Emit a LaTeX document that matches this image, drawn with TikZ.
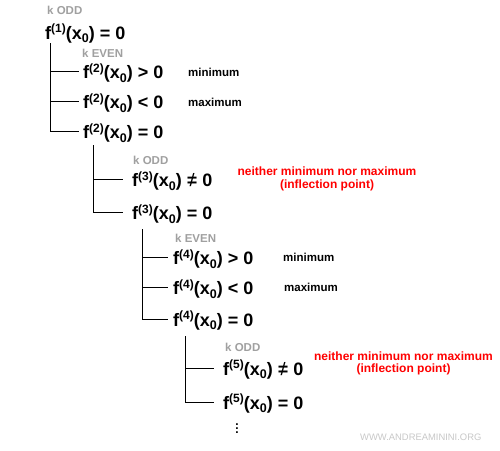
\documentclass[tikz,border=0pt]{standalone}
\usepackage{fontspec}
\setmainfont{Liberation Sans}
\definecolor{kgray}{HTML}{A0A0A0}
\definecolor{wmgray}{HTML}{C8C8C8}
\definecolor{notered}{HTML}{FF0000}
\newcommand\supx[1]{\raisebox{6.5pt}{\fontsize{12}{12}\selectfont #1}}
\newcommand\subx[1]{\raisebox{-3.5pt}{\fontsize{12.5}{12.5}\selectfont #1}}
\newcommand\neqx{\ooalign{=\cr\hidewidth\mdseries/\hidewidth\cr}}
\newcommand\fx[2]{f\supx{(#1)}(x\subx{0}) #2 0}
\begin{document}
\begin{tikzpicture}[x=1pt,y=-1pt,
  eq/.style={anchor=base west, inner sep=0, font=\fontsize{18}{18}\selectfont\bfseries},
  klabel/.style={anchor=base west, inner sep=0, font=\fontsize{11.5}{12}\selectfont\bfseries, text=kgray},
  note/.style={anchor=base west, inner sep=0, font=\fontsize{11.5}{12}\selectfont\bfseries},
  rednote/.style={anchor=center, inner sep=0, align=center, text=notered, font=\fontsize{12}{12.3}\selectfont\bfseries},
  branch/.style={line width=1pt, line cap=rect}]
\fill[white] (0,0) rectangle (500,450);
\useasboundingbox (0,0) rectangle (500,450);

% level 0
\node[klabel] (k1) at (47,14) {k ODD};
\node[eq] (f1) at (45,39) {\fx{1}{=}};

% level 1
\node[klabel] (k2) at (82,57) {k EVEN};
\node[eq] (f2a) at (83,78.5) {\fx{2}{>}};
\node[note] (min1) at (188,76) {minimum};
\node[eq] (f2b) at (83,108.5) {\fx{2}{<}};
\node[note] (max1) at (188,106) {maximum};
\node[eq] (f2c) at (83,138.5) {\fx{2}{=}};

% level 2
\node[klabel] (k3) at (133,164) {k ODD};
\node[eq] (f3a) at (132,186.5) {\fx{3}{\neqx}};
\node[rednote] (r1) at (327,179) {neither minimum nor maximum\\(inflection point)};
\node[eq] (f3b) at (132,219.5) {\fx{3}{=}};

% level 3
\node[klabel] (k4) at (175,242) {k EVEN};
\node[eq] (f4a) at (173,264.5) {\fx{4}{>}};
\node[note] (min2) at (283,261) {minimum};
\node[eq] (f4b) at (173,294.5) {\fx{4}{<}};
\node[note] (max2) at (284,291) {maximum};
\node[eq] (f4c) at (173,326) {\fx{4}{=}};

% level 4
\node[klabel] (k5) at (225,351) {k ODD};
\node[eq] (f5a) at (223,375) {\fx{5}{\neqx}};
\node[rednote] (r2) at (403.5,363.5) {neither minimum nor maximum\\(inflection point)};
\node[eq] (f5b) at (223,409) {\fx{5}{=}};
\node[inner sep=0, font=\fontsize{12}{12}\selectfont\bfseries] (dots) at (237,426) {\vdots};

% watermark
\node[anchor=base west, inner sep=0, text=wmgray, font=\fontsize{9.4}{10}\selectfont] (wm) at (360,440.5) {WWW.ANDREAMININI.ORG};

% connectors
\coordinate (v1) at (50.5,43);
\coordinate (v2) at (93,145);
\coordinate (v3) at (142,229);
\coordinate (v4) at (185,336);
\draw[branch] (v1) |- ([xshift=-5pt,yshift=7pt]f2a.base west);
\draw[branch] (v1) |- ([xshift=-5pt,yshift=7pt]f2b.base west);
\draw[branch] (v1) |- ([xshift=-5pt,yshift=7pt]f2c.base west);
\draw[branch] (v2) |- ([xshift=-10pt,yshift=7pt]f3a.base west);
\draw[branch] (v2) |- ([xshift=-10pt,yshift=7pt]f3b.base west);
\draw[branch] (v3) |- ([xshift=-6pt,yshift=7pt]f4a.base west);
\draw[branch] (v3) |- ([xshift=-6pt,yshift=7pt]f4b.base west);
\draw[branch] (v3) |- ([xshift=-6pt,yshift=7pt]f4c.base west);
\draw[branch] (v4) |- ([xshift=-10pt,yshift=7pt]f5a.base west);
\draw[branch] (v4) |- ([xshift=-10pt,yshift=7pt]f5b.base west);
\end{tikzpicture}
\end{document}
